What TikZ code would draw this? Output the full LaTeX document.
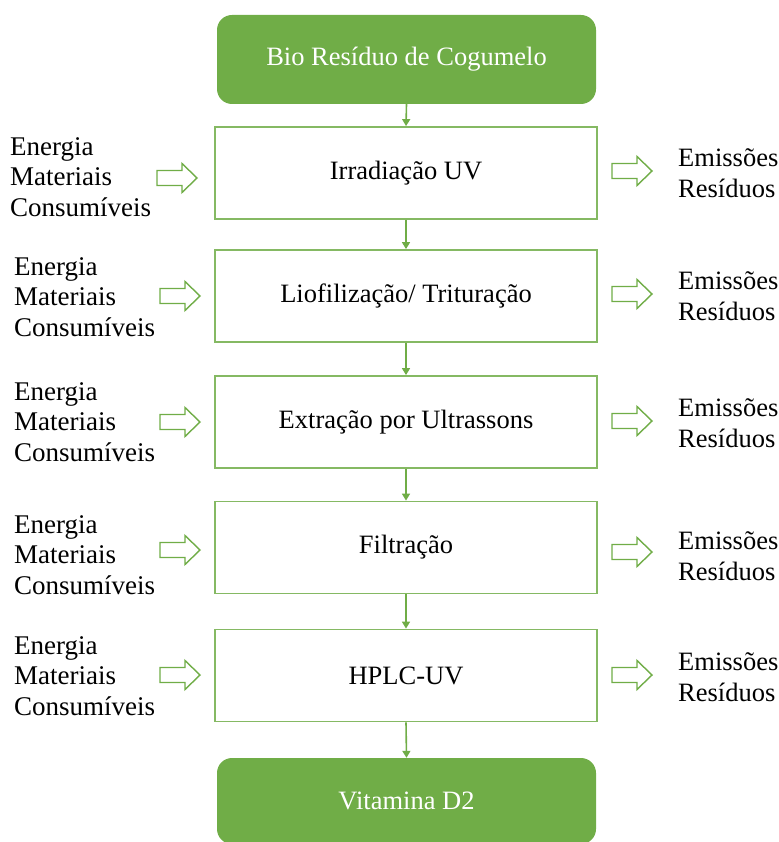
\documentclass[tikz,border=0pt]{standalone}
\usepackage{fontspec}
\setmainfont{Liberation Serif}
\usetikzlibrary{arrows.meta}
\definecolor{lgreen}{HTML}{70AD47}
\begin{document}
\begin{tikzpicture}[x=1pt,y=-1pt,
  txt/.style={font=\fontsize{26.5}{30.5}\selectfont, inner sep=0pt},
  greenbox/.style={txt, fill=lgreen, draw=none, rounded corners=15pt, text=white, minimum width=379pt, minimum height=89pt},
  procbox/.style={txt, draw=lgreen!85, line width=1.8pt, fill=white, minimum width=382pt, minimum height=92pt},
  sidetxt/.style={txt, align=left, anchor=west},
  lefttxt/.style={sidetxt, font=\fontsize{27}{30.5}\selectfont},
  flow/.style={draw=lgreen, line width=1.6pt, -{Triangle[width=8pt,length=7pt]}},
  hollow/.pic={\draw[lgreen, line width=1.4pt, fill=white] (0,-7.5) -- (25,-7.5) -- (25,-14.5) -- (40,0) -- (25,14.5) -- (25,7.5) -- (0,7.5) -- cycle;}
]
\useasboundingbox (0,0) rectangle (778,842);

\node[greenbox] (top) at (406.5,59.5) {Bio Resíduo de Cogumelo};
\node[procbox] (b1) at (406,173) {Irradiação UV};
\node[procbox] (b2) at (406,296) {Liofilização/ Trituração};
\node[procbox] (b3) at (406,422) {Extração por Ultrassons};
\node[procbox] (b4) at (406,547.5) {Filtração};
\node[procbox] (b5) at (406,675.5) {HPLC-UV};
\node[greenbox, minimum height=86pt] (bot) at (406.5,801) {Vitamina D2};

\draw[flow] (top.south) -- (b1.north);
\draw[flow] (b1.south) -- (b2.north);
\draw[flow] (b2.south) -- (b3.north);
\draw[flow] (b3.south) -- (b4.north);
\draw[flow] (b4.south) -- (b5.north);
\draw[flow] (b5.south) -- (bot.north);

\node[lefttxt] (in1) at (10,177) {Energia\\Materiais\\Consumíveis};
\node[lefttxt] (in2) at (14,297) {Energia\\Materiais\\Consumíveis};
\node[lefttxt] (in3) at (14,422) {Energia\\Materiais\\Consumíveis};
\node[lefttxt] (in4) at (14,555) {Energia\\Materiais\\Consumíveis};
\node[lefttxt] (in5) at (14,676) {Energia\\Materiais\\Consumíveis};

\node[sidetxt] (out1) at (678,173) {Emissões\\Resíduos};
\node[sidetxt] (out2) at (678,296) {Emissões\\Resíduos};
\node[sidetxt] (out3) at (678,423) {Emissões\\Resíduos};
\node[sidetxt] (out4) at (678,556) {Emissões\\Resíduos};
\node[sidetxt] (out5) at (678,677) {Emissões\\Resíduos};

\pic at (157,178) {hollow};
\pic at (160,296) {hollow};
\pic at (160,422) {hollow};
\pic at (160,550) {hollow};
\pic at (160,675) {hollow};

\pic at (612,171) {hollow};
\pic at (612,294) {hollow};
\pic at (612,421) {hollow};
\pic at (612,552) {hollow};
\pic at (612,675) {hollow};
\end{tikzpicture}
\end{document}
